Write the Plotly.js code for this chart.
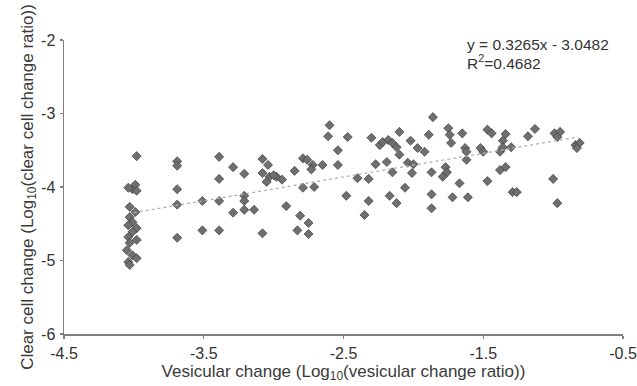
<!DOCTYPE html>
<html>
<head>
<meta charset="utf-8">
<script src="https://cdn.plot.ly/plotly-3.0.1.min.js"></script>
<style>html,body{margin:0;padding:0;background:#fff;}#chart{width:637px;height:386px;}</style>
</head>
<body>
<div id="chart"></div>
<script>
// Vesicular change (x) and clear cell change (y), log10 values
const vesicularX = [
  -3.98,-4.01,-3.99,-4.04,-3.98,-4.03,-3.99,-4.03,-4.01,-4.04,-3.98,-4.01,-4.04,-3.98,-4.03,-4.05,-4.01,-3.98,-4.04,-4.03,
  -3.69,-3.69,-3.69,-3.69,-3.69,-3.51,-3.51,-3.39,-3.39,-3.39,-3.39,-3.29,-3.21,-3.29,-3.21,-3.14,-3.21,-3.21,
  -3.08,-3.04,-3.08,-3.03,-2.98,-2.94,-3.05,-3.00,-2.85,-2.79,-2.76,-2.72,-2.73,-2.65,-2.60,-2.61,-2.79,-2.71,
  -2.91,-2.81,-2.75,-3.08,-2.83,-2.75,-2.47,-2.54,-2.54,-2.30,-2.24,-2.22,-2.18,-2.15,-2.12,-2.10,-2.02,-1.97,
  -1.92,-2.10,-1.89,-1.86,-2.27,-2.19,-2.04,-2.00,-2.15,-2.01,-1.87,-1.77,-1.76,-1.79,-2.40,-2.32,-2.06,-2.17,
  -2.12,-2.48,-2.32,-2.35,-1.87,-1.87,-1.75,-1.74,-1.73,-1.65,-1.47,-1.44,-1.34,-1.36,-1.63,-1.62,-1.62,-1.52,
  -1.50,-1.38,-1.36,-1.30,-1.18,-1.13,-0.99,-0.95,-0.97,-0.84,-0.81,-0.83,-1.38,-1.34,-1.67,-1.47,-1.72,-1.61,
  -1.29,-1.26,-1.00,-0.97
];
const clearCellY = [
  -3.58,-4.03,-3.97,-4.01,-4.05,-4.27,-4.34,-4.41,-4.48,-4.52,-4.56,-4.61,-4.68,-4.72,-4.76,-4.86,-4.93,-4.97,-5.02,-5.06,
  -3.65,-3.71,-4.03,-4.24,-4.69,-4.19,-4.59,-3.59,-3.89,-4.19,-4.59,-3.73,-3.82,-4.35,-4.31,-4.31,-4.12,-4.19,
  -3.62,-3.70,-3.81,-3.86,-3.86,-3.90,-3.93,-3.84,-3.78,-3.61,-3.63,-3.70,-3.76,-3.70,-3.16,-3.31,-4.01,-4.00,
  -4.26,-4.39,-4.49,-4.63,-4.59,-4.64,-3.32,-3.50,-3.70,-3.33,-3.43,-3.39,-3.36,-3.40,-3.46,-3.25,-3.37,-3.47,
  -3.52,-3.56,-3.29,-3.05,-3.69,-3.66,-3.67,-3.69,-3.80,-3.81,-3.80,-3.73,-3.80,-3.86,-3.88,-3.89,-4.01,-4.12,
  -4.22,-4.12,-4.19,-4.38,-4.10,-4.29,-3.20,-3.29,-3.40,-3.27,-3.22,-3.27,-3.28,-3.37,-3.47,-3.52,-3.63,-3.47,
  -3.52,-3.52,-3.46,-3.46,-3.31,-3.21,-3.27,-3.25,-3.32,-3.43,-3.40,-3.47,-3.77,-3.73,-3.95,-3.92,-4.14,-4.14,
  -4.07,-4.07,-3.89,-4.22
];
// Trend line end points as drawn
const trendX = [-4.0, -0.82];
const trendY = [-4.35, -3.32];

const xTickVals = [-4.5, -3.5, -2.5, -1.5, -0.5];
const xTickText = ["-4.5", "-3.5", "-2.5", "-1.5", "-0.5"];
const yTickVals = [-6, -5, -4, -3, -2];
const yTickText = ["-6", "-5", "-4", "-3", "-2"];

const equationText = "y = 0.3265x - 3.0482";
const r2Text = "R<sup>2</sup>=0.4682";

const font = "Arial, 'Liberation Sans', sans-serif";

const traces = [
  {
    x: vesicularX, y: clearCellY, type: "scatter", mode: "markers",
    marker: {symbol: "diamond", size: 7, color: "#6f6f6f", line: {color: "#3c3c3c", width: 0.7}},
    hoverinfo: "x+y", showlegend: false
  },
  {
    x: trendX, y: trendY, type: "scatter", mode: "lines",
    line: {color: "#b0b0b0", width: 1.3, dash: "dot"},
    hoverinfo: "skip", showlegend: false
  }
];

const axisCommon = {
  showgrid: false, zeroline: false, showline: true,
  linecolor: "#808080", linewidth: 1.5,
  ticks: "outside", ticklen: 3, tickcolor: "#808080", tickwidth: 1.2,
  tickfont: {family: font, size: 16, color: "#333"},
  automargin: false
};

const layout = {
  width: 637, height: 386,
  margin: {l: 64, r: 14, t: 40, b: 52},
  paper_bgcolor: "#fff", plot_bgcolor: "#fff",
  xaxis: Object.assign({}, axisCommon, {
    range: [-4.5, -0.5], tickmode: "array", tickvals: xTickVals, ticktext: xTickText,
    ticklabelstandoff: 1,
    title: {text: "Vesicular change (Log<sub>10</sub>(vesicular change ratio))",
            font: {family: font, size: 17, color: "#3a3a3a"}, standoff: 1}
  }),
  yaxis: Object.assign({}, axisCommon, {
    range: [-6, -2], tickmode: "array", tickvals: yTickVals, ticktext: yTickText,
    ticklabelstandoff: 1,
    title: {text: "Clear cell change (Log<sub>10</sub>(clear cell change ratio))",
            font: {family: font, size: 17, color: "#3a3a3a"}, standoff: 3}
  }),
  annotations: [
    {text: equationText, xref: "paper", yref: "paper", x: 0.717, y: 0.986,
     xanchor: "left", yanchor: "middle", showarrow: false,
     font: {family: font, size: 15.5, color: "#333"}},
    {text: r2Text, xref: "paper", yref: "paper", x: 0.717, y: 0.925,
     xanchor: "left", yanchor: "middle", showarrow: false,
     font: {family: font, size: 15.5, color: "#333"}}
  ]
};

Plotly.newPlot("chart", traces, layout, {staticPlot: true, displayModeBar: false});
</script>
</body>
</html>
